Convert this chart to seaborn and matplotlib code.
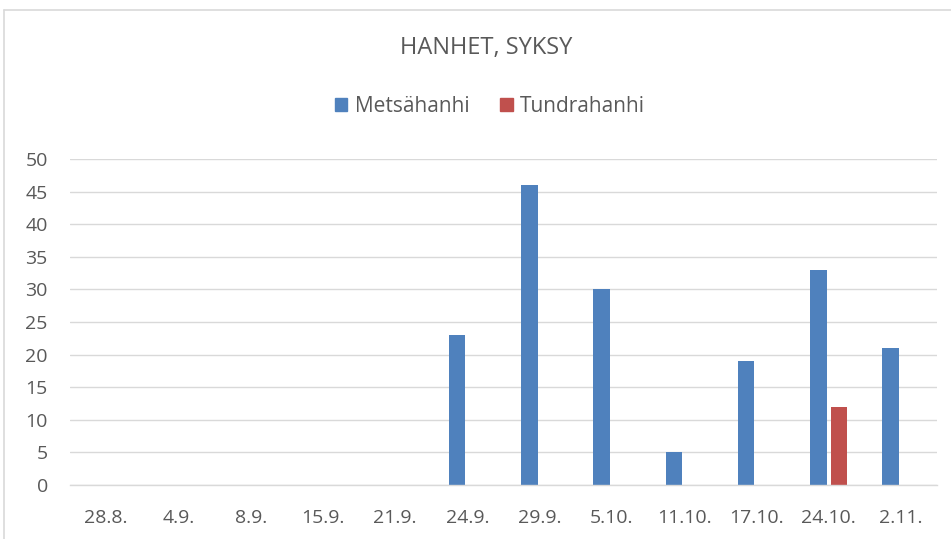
import matplotlib
matplotlib.use("Agg")
import matplotlib.pyplot as plt
import seaborn as sns
import pandas as pd
from matplotlib.lines import Line2D

categories = ["28.8.", "4.9.", "8.9.", "15.9.", "21.9.", "24.9.", "29.9.",
              "5.10.", "11.10.", "17.10.", "24.10.", "2.11."]
metsahanhi = [0, 0, 0, 0, 0, 23, 46, 30, 5, 19, 33, 21]
tundrahanhi = [0, 0, 0, 0, 0, 0, 0, 0, 0, 0, 12, 0]
series_names = ["Metsähanhi", "Tundrahanhi"]
colors = ["#4f81bd", "#c0504d"]
title = "HANHET, SYKSY"

df = pd.DataFrame({
    "date": categories * 2,
    "value": metsahanhi + tundrahanhi,
    "series": [series_names[0]] * len(categories) + [series_names[1]] * len(categories),
})

sns.set_theme(style="white")
plt.rcParams["font.family"] = ["Open Sans", "DejaVu Sans"]
text_color = "#595959"

fig = plt.figure(figsize=(9.51, 5.39), dpi=100)
ax = fig.add_axes([70/951, 1-485/539, 867/951, (485-159)/539])

sns.barplot(data=df, x="date", y="value", hue="series", order=categories,
            hue_order=series_names, palette=colors, width=0.57, gap=0.2,
            saturation=1, linewidth=0, ax=ax, legend=False)

ax.set_ylim(0, 50)
ax.set_yticks(range(0, 51, 5))
ax.set_xlim(-0.5, len(categories) - 0.5)
ax.yaxis.grid(True, color="#d9d9d9", linewidth=1)
ax.set_axisbelow(True)
for s in ["left", "right", "top"]:
    ax.spines[s].set_visible(False)
ax.spines["bottom"].set_color("#d9d9d9")
ax.spines["bottom"].set_linewidth(1)
ax.tick_params(axis="both", length=0, labelsize=14, colors=text_color)
ax.tick_params(axis="y", pad=16)
ax.tick_params(axis="x", pad=17)
ax.set_xlabel("")
ax.set_ylabel("")

fig.text(486/951, 1-48/539, title, ha="center", va="center",
         fontsize=17, color=text_color)

handles = [plt.Rectangle((0, 0), 1, 1, color=c) for c in colors]
fig.legend(handles, series_names, loc="center", bbox_to_anchor=(490/951, 1-106/539),
           ncol=2, frameon=False, fontsize=15, labelcolor=text_color,
           handlelength=0.6, handleheight=0.6, handletextpad=0.35, columnspacing=1.5)

# outer chart border (cropped)
fig.add_artist(Line2D([3.5/951, 3.5/951], [0, 1-10/539], transform=fig.transFigure,
                      color="#d9d9d9", linewidth=1.2))
fig.add_artist(Line2D([3.5/951, 1], [1-10/539, 1-10/539], transform=fig.transFigure,
                      color="#d9d9d9", linewidth=1.2))

fig.savefig("out.png", dpi=100)
